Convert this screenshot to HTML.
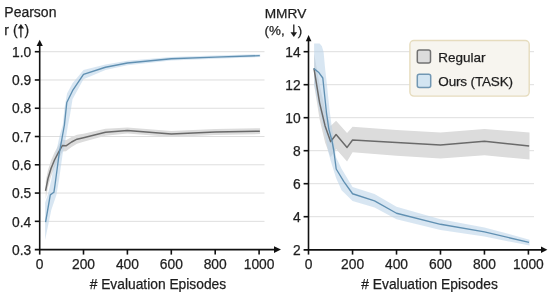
<!DOCTYPE html>
<html><head><meta charset="utf-8"><style>
html,body{margin:0;padding:0;background:#fff;width:550px;height:292px;overflow:hidden}
svg{display:block;will-change:transform}
</style></head><body>
<svg width="550" height="292" viewBox="0 0 550 292">
<rect width="550" height="292" fill="#fff"/>
<g stroke="#dedede" stroke-width="1">
<line x1="40" y1="221.33" x2="264.5" y2="221.33"/>
<line x1="40" y1="193.06" x2="264.5" y2="193.06"/>
<line x1="40" y1="164.79" x2="264.5" y2="164.79"/>
<line x1="40" y1="136.52" x2="264.5" y2="136.52"/>
<line x1="40" y1="108.25" x2="264.5" y2="108.25"/>
<line x1="40" y1="79.98" x2="264.5" y2="79.98"/>
<line x1="40" y1="51.71" x2="264.5" y2="51.71"/>
<line x1="309" y1="216.70" x2="534" y2="216.70"/>
<line x1="309" y1="183.70" x2="534" y2="183.70"/>
<line x1="309" y1="150.70" x2="534" y2="150.70"/>
<line x1="309" y1="117.70" x2="534" y2="117.70"/>
<line x1="309" y1="84.70" x2="534" y2="84.70"/>
<line x1="309" y1="51.70" x2="534" y2="51.70"/>
</g>
<polygon fill="#dcdcdc" points="45.70,181.20 48.00,170.00 51.00,160.50 54.50,152.50 58.50,145.30 62.40,139.50 66.00,140.30 71.60,137.00 77.00,134.70 83.50,133.65 105.45,128.78 127.40,127.58 171.30,131.08 215.20,129.10 260.10,128.25 260.10,134.05 215.20,134.90 171.30,136.88 127.40,133.58 105.45,135.78 83.50,141.65 77.00,143.70 71.60,147.00 66.00,151.30 62.40,151.50 58.50,159.30 54.50,167.50 51.00,176.50 48.00,187.00 45.70,199.20"/>
<polygon fill="#b9d3e7" fill-opacity="0.56" points="45.10,202.70 47.70,195.00 51.30,180.00 55.50,155.00 59.80,135.00 62.80,125.00 64.50,108.00 67.04,93.55 72.53,83.37 83.50,70.09 105.45,64.43 127.40,60.76 171.30,57.08 215.20,55.39 260.20,54.25 260.20,57.08 215.20,58.78 171.30,60.47 127.40,65.28 105.45,70.09 83.50,79.13 72.53,99.20 70.00,115.00 68.00,125.00 66.40,135.00 62.50,155.00 59.00,180.00 56.40,195.00 51.30,210.00 45.10,240.00"/>
<polyline fill="none" stroke="#6a6a6a" stroke-width="1.5" stroke-linejoin="round" stroke-linecap="square" points="45.70,190.20 48.00,178.50 51.00,168.50 54.50,160.00 58.50,152.30 62.40,145.50 66.00,145.80 71.60,142.00 77.00,139.20 83.50,137.65 105.45,132.28 127.40,130.58 171.30,133.98 215.20,132.00 259.10,131.15"/>
<polyline fill="none" stroke="#6090b2" stroke-width="1.35" stroke-linejoin="round" stroke-linecap="square" points="45.70,221.40 50.30,194.90 53.90,192.30 55.00,185.00 59.00,155.00 64.40,125.00 66.80,102.50 72.53,90.72 83.50,74.33 105.45,67.26 127.40,63.02 171.30,58.78 215.20,57.08 259.10,55.67"/>
<polygon fill="#dcdcdc" points="314.10,53.35 319.59,84.70 325.09,109.45 330.58,125.95 336.08,120.67 347.06,132.88 352.56,126.78 396.52,130.07 440.48,132.55 484.44,128.92 529.50,132.55 529.50,159.44 484.44,155.32 440.48,158.45 396.52,155.65 352.56,152.35 347.06,161.43 336.08,149.05 330.58,157.30 325.09,142.45 319.59,119.35 314.10,84.70"/>
<polygon fill="#b9d3e7" fill-opacity="0.56" points="314.10,43.45 319.59,43.45 321.79,45.92 323.55,51.70 325.09,68.20 327.28,88.00 329.48,109.45 333.88,142.45 336.08,157.30 341.57,168.85 352.56,187.00 374.54,193.93 396.52,206.80 440.48,219.17 484.44,227.42 529.50,239.63 529.50,245.57 484.44,236.50 440.48,229.90 396.52,219.17 374.54,207.62 352.56,201.02 341.57,190.30 336.08,177.93 330.58,160.60 328.38,152.35 325.09,134.20 319.59,111.10 314.10,84.70"/>
<polyline fill="none" stroke="#6a6a6a" stroke-width="1.5" stroke-linejoin="round" stroke-linecap="square" points="314.10,69.03 319.59,102.85 325.09,125.95 330.58,141.62 336.08,134.53 347.06,147.40 352.56,139.97 396.52,142.45 440.48,144.93 484.44,141.29 528.40,145.92"/>
<polyline fill="none" stroke="#6090b2" stroke-width="1.35" stroke-linejoin="round" stroke-linecap="square" points="314.20,68.90 318.50,72.20 322.80,78.00 326.50,113.00 328.80,129.00 332.00,141.00 333.70,150.00 336.20,169.00 343.70,181.30 352.56,193.76 374.54,200.86 396.52,213.23 440.48,224.29 484.44,231.88 528.40,242.27"/>
<g stroke="#111" stroke-width="1.6" fill="none">
<line x1="39.7" y1="45" x2="39.7" y2="254.6"/>
<line x1="34.8" y1="249.6" x2="275" y2="249.6"/>
<line x1="34.8" y1="221.33" x2="39.7" y2="221.33"/>
<line x1="34.8" y1="193.06" x2="39.7" y2="193.06"/>
<line x1="34.8" y1="164.79" x2="39.7" y2="164.79"/>
<line x1="34.8" y1="136.52" x2="39.7" y2="136.52"/>
<line x1="34.8" y1="108.25" x2="39.7" y2="108.25"/>
<line x1="34.8" y1="79.98" x2="39.7" y2="79.98"/>
<line x1="34.8" y1="51.71" x2="39.7" y2="51.71"/>
<line x1="83.50" y1="249.6" x2="83.50" y2="254.6"/>
<line x1="127.40" y1="249.6" x2="127.40" y2="254.6"/>
<line x1="171.30" y1="249.6" x2="171.30" y2="254.6"/>
<line x1="215.20" y1="249.6" x2="215.20" y2="254.6"/>
<line x1="259.10" y1="249.6" x2="259.10" y2="254.6"/>
<line x1="308.5" y1="40" x2="308.5" y2="254.6"/>
<line x1="303.6" y1="249.85" x2="542" y2="249.85"/>
<line x1="303.6" y1="216.70" x2="308.5" y2="216.70"/>
<line x1="303.6" y1="183.70" x2="308.5" y2="183.70"/>
<line x1="303.6" y1="150.70" x2="308.5" y2="150.70"/>
<line x1="303.6" y1="117.70" x2="308.5" y2="117.70"/>
<line x1="303.6" y1="84.70" x2="308.5" y2="84.70"/>
<line x1="303.6" y1="51.70" x2="308.5" y2="51.70"/>
<line x1="352.56" y1="249.85" x2="352.56" y2="254.6"/>
<line x1="396.52" y1="249.85" x2="396.52" y2="254.6"/>
<line x1="440.48" y1="249.85" x2="440.48" y2="254.6"/>
<line x1="484.44" y1="249.85" x2="484.44" y2="254.6"/>
<line x1="528.40" y1="249.85" x2="528.40" y2="254.6"/>
</g>
<g fill="#111">
<polygon points="39.7,39.8 36.6,46 42.8,46"/>
<polygon points="281,249.6 274,246.3 274,252.9"/>
<polygon points="308.6,35.1 305.8,41.2 311.4,41.2"/>
<polygon points="547.4,249.8 541,246.5 541,253.1"/>
</g>
<g font-family="Liberation Sans, sans-serif" font-size="13.8" fill="#1e1e1e" stroke="#1e1e1e" stroke-width="0.25">
<text x="4.3" y="16.6" font-size="14">Pearson</text>
<text x="4.2" y="34.6" font-size="14">r</text>
<text x="13.1" y="35.1" font-size="13.9">(</text>
<text x="24.5" y="35.1" font-size="13.9">)</text>
<text x="264.7" y="17.6" font-size="13.7">MMRV</text>
<text x="264.6" y="34.5" font-size="13.4">(%,</text>
<text x="297.8" y="34.5" font-size="13.4">)</text>
<text x="31.3" y="254.80" text-anchor="end">0.3</text>
<text x="31.3" y="226.53" text-anchor="end">0.4</text>
<text x="31.3" y="198.26" text-anchor="end">0.5</text>
<text x="31.3" y="169.99" text-anchor="end">0.6</text>
<text x="31.3" y="141.72" text-anchor="end">0.7</text>
<text x="31.3" y="113.45" text-anchor="end">0.8</text>
<text x="31.3" y="85.18" text-anchor="end">0.9</text>
<text x="31.3" y="56.91" text-anchor="end">1.0</text>
<text x="300.6" y="255.00" text-anchor="end">2</text>
<text x="300.6" y="222.00" text-anchor="end">4</text>
<text x="300.6" y="189.00" text-anchor="end">6</text>
<text x="300.6" y="156.00" text-anchor="end">8</text>
<text x="300.6" y="123.00" text-anchor="end">10</text>
<text x="300.6" y="90.00" text-anchor="end">12</text>
<text x="300.6" y="57.00" text-anchor="end">14</text>
<text x="39.60" y="269" text-anchor="middle">0</text>
<text x="308.60" y="269" text-anchor="middle">0</text>
<text x="83.50" y="269" text-anchor="middle">200</text>
<text x="352.56" y="269" text-anchor="middle">200</text>
<text x="127.40" y="269" text-anchor="middle">400</text>
<text x="396.52" y="269" text-anchor="middle">400</text>
<text x="171.30" y="269" text-anchor="middle">600</text>
<text x="440.48" y="269" text-anchor="middle">600</text>
<text x="215.20" y="269" text-anchor="middle">800</text>
<text x="484.44" y="269" text-anchor="middle">800</text>
<text x="259.10" y="269" text-anchor="middle">1000</text>
<text x="528.40" y="269" text-anchor="middle">1000</text>
<text x="157.9" y="288.8" text-anchor="middle"># Evaluation Episodes</text>
<text x="429.6" y="288.8" text-anchor="middle"># Evaluation Episodes</text>
</g>
<g stroke="#1e1e1e" fill="#1e1e1e">
<line x1="20.9" y1="27" x2="20.9" y2="37.6" stroke-width="1.3"/>
<polygon points="20.9,23.9 17.7,28.6 24.1,28.6" stroke="none"/>
<line x1="293.8" y1="24.5" x2="293.8" y2="34.5" stroke-width="1.3"/>
<polygon points="293.8,37.0 290.5,32.3 297.1,32.3" stroke="none"/>
</g>
<rect x="409.9" y="40.5" width="119.3" height="55.6" rx="4" fill="#f7f5ef" stroke="#e6dcbe" stroke-width="1.4"/>
<rect x="417.3" y="49.9" width="13.2" height="13.2" rx="2" fill="#dcdcdc" stroke="#727272" stroke-width="1.5"/>
<rect x="417.3" y="74.2" width="13.4" height="13.2" rx="2" fill="#d3e5f2" stroke="#7197b3" stroke-width="1.5"/>
<g font-family="Liberation Sans, sans-serif" font-size="13.5" fill="#1e1e1e" stroke="#1e1e1e" stroke-width="0.25">
<text x="438.3" y="61.7">Regular</text>
<text x="438.3" y="85.9" letter-spacing="-0.15">Ours (TASK)</text>
</g>
</svg>
</body></html>
